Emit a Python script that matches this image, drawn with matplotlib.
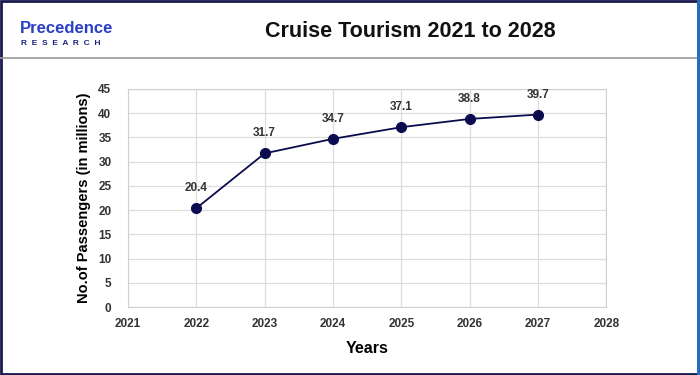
import matplotlib.pyplot as plt
from matplotlib.patches import Rectangle
from matplotlib.lines import Line2D

years = [2022, 2023, 2024, 2025, 2026, 2027]
passengers = [20.4, 31.7, 34.7, 37.1, 38.8, 39.7]
x_ticks = [2021, 2022, 2023, 2024, 2025, 2026, 2027, 2028]
y_ticks = [0, 5, 10, 15, 20, 25, 30, 35, 40, 45]

plt.rcParams['font.family'] = ['Liberation Sans', 'DejaVu Sans']

fig = plt.figure(figsize=(7, 3.75), dpi=100)
ax = fig.add_axes([0.183, 0.181, 0.683, 0.582])

ax.plot(years, passengers, color="#0b0b4f", linewidth=1.3, marker="o",
        markersize=7, markerfacecolor="#0b0b4f", markeredgecolor="#0b0b4f", zorder=3)
for x, y in zip(years, passengers):
    ax.annotate(f"{y}", (x, y), xytext=(0, 10), textcoords="offset points",
                ha="center", va="bottom", fontsize=8.5, fontweight="bold", color="#333333")

ax.set_xlim(2021, 2028)
ax.set_ylim(0, 45)
ax.set_xticks(x_ticks)
ax.set_yticks(y_ticks)
ax.grid(True, color="#dddddd", linewidth=0.9)
ax.set_axisbelow(True)
for s in ax.spines.values():
    s.set_color("#d0d0d0")
ax.tick_params(length=0, labelsize=8.5, colors="#333333")
ax.tick_params(axis="y", pad=12)
ax.tick_params(axis="x", pad=8)
for lbl in ax.get_xticklabels() + ax.get_yticklabels():
    lbl.set_fontweight("bold")
ax.set_xlabel("Years", fontsize=11.5, fontweight="bold", labelpad=8)
ax.set_ylabel("No.of Passengers (in millions)", fontsize=10.5, fontweight="bold", labelpad=5)

# header
fig.text(0.586, 0.915, "Cruise Tourism 2021 to 2028", ha="center", va="center",
         fontsize=15.5, fontweight="bold", color="#111111")
fig.text(0.028, 0.925, "Precedence", ha="left", va="center", fontsize=12,
         fontweight="bold", color="#2a3fc7")
fig.text(0.03, 0.885, "R  E  S  E  A  R  C  H", ha="left", va="center", fontsize=6,
         fontweight="bold", color="#1a237e")
fig.add_artist(Line2D([0, 1], [0.846, 0.846], color="#999999", linewidth=1.2,
                      transform=fig.transFigure))
fig.add_artist(Rectangle((0.0015, 0.003), 0.995, 0.994, fill=False,
                         edgecolor="#1a1a4e", linewidth=2, transform=fig.transFigure))
fig.add_artist(Line2D([0.997, 0.997], [0.003, 0.997], color="#2a6fc0", linewidth=2,
                      transform=fig.transFigure))

fig.savefig("out.png", dpi=100)
